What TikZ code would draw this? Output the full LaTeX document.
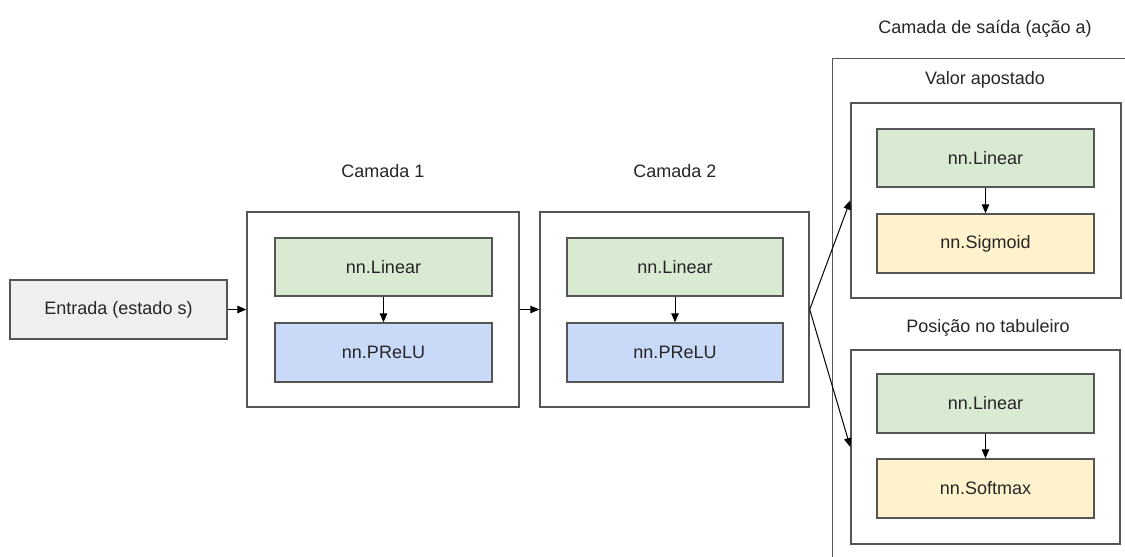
\documentclass[tikz,border=0pt]{standalone}
\usepackage{fontspec}
\setmainfont{Liberation Sans}
\usetikzlibrary{arrows.meta}
\definecolor{lgreen}{HTML}{D9EAD3}
\definecolor{lblue}{HTML}{C9DAF8}
\definecolor{lyellow}{HTML}{FFF2CC}
\definecolor{lgray}{HTML}{EFEFEF}
\definecolor{edgegray}{HTML}{555555}
\begin{document}
\begin{tikzpicture}[x=1pt,y=-1pt,
  box/.style={draw=edgegray, line width=1.4pt, rectangle, inner sep=0pt, font=\fontsize{18}{21}\selectfont, text=black!85},
  group/.style={box, fill=white},
  lab/.style={font=\fontsize{18}{21}\selectfont, inner sep=0pt, text=black!85},
  arr/.style={-{Triangle[length=9pt,width=7.5pt]}, line width=1pt, black}
]
\useasboundingbox (0,0) rectangle (1125,557);
\fill[white] (0,0) rectangle (1125,557);
\begin{scope}
\clip (0,0) rectangle (1125,557);
\node[group, minimum width=320pt, minimum height=530pt, anchor=north west] (out) at (832,58) {};
\end{scope}
% labels
\node[lab] (outlab) at (985,29) {Camada de saída (ação a)};
\node[lab] (c1lab) at (383,171) {Camada 1};
\node[lab] (c2lab) at (675,171) {Camada 2};
\node[lab] (vlab) at (985,80) {Valor apostado};
\node[lab] (plab) at (988,328) {Posição no tabuleiro};
% input
\node[box, fill=lgray, minimum width=217pt, minimum height=59pt] (ent) at (118.5,309.5) {Entrada (estado s)};
% layer 1
\node[group, minimum width=272pt, minimum height=195pt] (c1) at (383,309.5) {};
\node[box, fill=lgreen, minimum width=217pt, minimum height=58pt] (c1lin) at (383.5,267) {nn.Linear};
\node[box, fill=lblue, minimum width=217pt, minimum height=59pt] (c1act) at (383.5,352.5) {nn.PReLU};
% layer 2
\node[group, minimum width=269pt, minimum height=195pt] (c2) at (674.5,309.5) {};
\node[box, fill=lgreen, minimum width=216pt, minimum height=58pt] (c2lin) at (675,267) {nn.Linear};
\node[box, fill=lblue, minimum width=216pt, minimum height=59pt] (c2act) at (675,352.5) {nn.PReLU};
% output: valor
\node[group, minimum width=270pt, minimum height=195pt] (valor) at (986,200.5) {};
\node[box, fill=lgreen, minimum width=217pt, minimum height=58pt] (vlin) at (985.5,158) {nn.Linear};
\node[box, fill=lyellow, minimum width=217pt, minimum height=59pt] (vsig) at (985.5,243.5) {nn.Sigmoid};
% output: posicao
\node[group, minimum width=269pt, minimum height=194pt] (pos) at (985.5,447) {};
\node[box, fill=lgreen, minimum width=217pt, minimum height=59pt] (plin) at (985.5,403.5) {nn.Linear};
\node[box, fill=lyellow, minimum width=217pt, minimum height=59pt] (psoft) at (985.5,488.5) {nn.Softmax};
% connectors
\draw[arr] (ent.east) -- (c1.west);
\draw[arr] (c1.east) -- (c2.west);
\draw[arr] (c2.east) -- (valor.west);
\draw[arr] (c2.east) -- (pos.west);
\draw[arr] (c1lin) -- (c1act);
\draw[arr] (c2lin) -- (c2act);
\draw[arr] (vlin) -- (vsig);
\draw[arr] (plin) -- (psoft);
\end{tikzpicture}
\end{document}
